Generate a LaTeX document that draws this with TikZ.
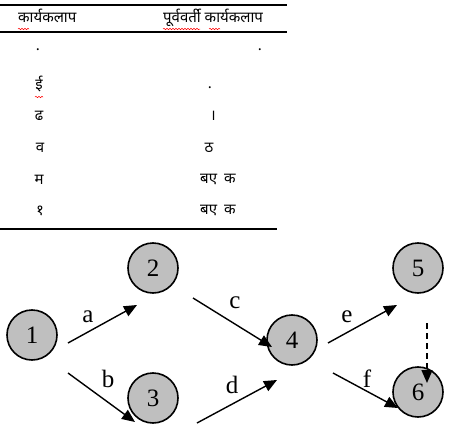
\documentclass[tikz,border=0pt]{standalone}
\usepackage{fontspec}
\setmainfont{Liberation Serif}
\newfontfamily\deva[Script=Devanagari]{Noto Sans}
\usetikzlibrary{arrows.meta,decorations.pathmorphing}

\tikzset{
  event/.style={circle,draw,line width=1.6pt,fill=black!25,minimum size=50pt,
    inner sep=0pt,font=\fontsize{25}{28}\selectfont},
  activity/.style={line width=1.4pt,-{Triangle[length=13pt,width=11pt]}},
  dummy/.style={line width=1.4pt,dash pattern=on 6pt off 4pt,
    -{Triangle[length=13pt,width=11pt]}},
  lbl/.style={inner sep=0pt,font=\fontsize{25}{28}\selectfont},
  cell/.style={inner sep=0pt,font=\deva\fontsize{15}{18}\selectfont},
  spell/.style={red,line width=0.5pt,decorate,
    decoration={snake,amplitude=0.7pt,segment length=3pt}}
}

\begin{document}
\begin{tikzpicture}[x=1pt,y=-1pt]
  \useasboundingbox (0,0) rectangle (461,439);

  % Tabla de actividades
  \draw[line width=1.2pt] (0,5) -- (287,5);
  \draw[line width=1.2pt] (0,32) -- (287,32);
  \draw[line width=1.2pt] (0,229) -- (277,229);
  \node[cell,anchor=base west] (h1) at (18,23) {कार्यकलाप};
  \node[cell,anchor=base west] (h2) at (163,23) {पूर्ववर्ती कार्यकलाप};
  \draw[spell] (18,29) -- (29,29);
  \draw[spell] (163,29) -- (200,29);
  \draw[spell] (209,29) -- (220,29);

  \node[cell] (r1a) at (38,50) {.};
  \node[cell] (r1b) at (260,50) {.};
  \node[cell] (r2a) at (39,84) {ई};
  \node[cell] (r2b) at (210,88) {.};
  \draw[spell] (35,97) -- (43,97);
  \node[cell] (r3a) at (39,116) {ढ};
  \node[cell] (r3b) at (213,116) {।};
  \node[cell] (r4a) at (40,148) {व};
  \node[cell] (r4b) at (209,148) {ठ};
  \node[cell] (r5a) at (39,180) {म};
  \node[cell,anchor=west] (r5b) at (200,180) {बए\hspace{7pt}क};
  \node[cell] (r6a) at (40,211) {१};
  \node[cell,anchor=west] (r6b) at (200,211) {बए\hspace{7pt}क};

  % Red de eventos
  \node[event] (n1) at (32,335) {1};
  \node[event] (n2) at (153,268) {2};
  \node[event] (n3) at (153,398) {3};
  \node[event] (n4) at (292,340) {4};
  \node[event] (n5) at (418,268) {5};
  \node[event] (n6) at (418,392) {6};

  \coordinate (a0) at (68,343);  \coordinate (a1) at (137,305);
  \coordinate (b0) at (68,373);  \coordinate (b1) at (135,422);
  \coordinate (c0) at (193,298); \coordinate (c1) at (272,347);
  \coordinate (d0) at (197,423); \coordinate (d1) at (277,380);
  \coordinate (e0) at (328,343); \coordinate (e1) at (397,305);
  \coordinate (f0) at (333,373); \coordinate (f1) at (398,408);
  \coordinate (g0) at (427,323); \coordinate (g1) at (427,383);

  \draw[activity] (a0) -- (a1);
  \draw[activity] (b0) -- (b1);
  \draw[activity] (c0) -- (c1);
  \draw[activity] (d0) -- (d1);
  \draw[activity] (e0) -- (e1);
  \draw[activity] (f0) -- (f1);
  \draw[dummy] (g0) -- (g1);

  \node[lbl] (la) at (88,317) {a};
  \node[lbl] (lb) at (108,379) {b};
  \node[lbl] (lc) at (235,303) {c};
  \node[lbl] (ld) at (232,385) {d};
  \node[lbl] (le) at (347,317) {e};
  \node[lbl] (lf) at (367,379) {f};
\end{tikzpicture}
\end{document}
